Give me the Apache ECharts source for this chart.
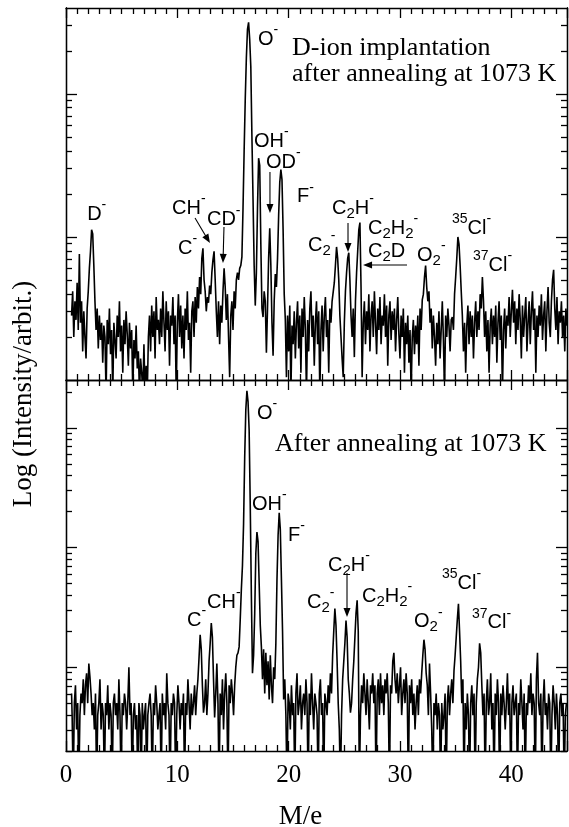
<!DOCTYPE html>
<html><head><meta charset="utf-8">
<script src="https://cdn.jsdelivr.net/npm/echarts@6/dist/echarts.min.js"></script>
<style>html,body{margin:0;padding:0;background:#fff}#c{width:569px;height:827px}</style>
</head><body><div id="c"></div>
<script>
// M/e grid of the recorded spectra
const MZ_START = 0.5, MZ_STEP = 0.1;
// Upper panel: D-ion implantation, after annealing at 1073 K  (log10 intensity, arb.)
const logI_implanted = [
 .45,.62,.30,.55,.42,.68,.35,.88,.40,.55,
 .20,.48,.30,.15,.50,.62,.78,.90,1.05,1.02,
 .80,.55,.35,.50,.22,.45,.28,.40,.12,.38,
 .30,-.1,.42,.25,.50,.18,.35,-.1,.40,.28,
 .15,.45,.30,.55,.20,.38,.05,.42,.25,.48,
 .32,.10,.40,.22,.35,-.1,.28,.15,.38,.08,
 .20,-.1,.15,.05,-.1,.25,-.1,.10,-.1,.30,
 .45,.20,.52,.30,.48,.15,.58,.35,.42,.25,
 .50,.30,.62,.40,.20,.55,.35,.48,.10,.45,
 .38,.58,.25,.45,-.1,.40,.60,.30,.52,.22,
 .45,.15,.50,.35,.62,.28,.40,.05,.48,.55,
 .30,.58,.40,.65,.50,.72,.60,.85,.92,.70,
 .62,.48,.58,.54,.66,.60,.75,.84,.90,.70,
 .48,.30,.55,.25,.52,.40,.62,.78,.65,.42,
 .60,.30,.02,.45,.55,.35,.62,.50,.70,.75,
 .70,.78,.80,.86,1.20,1.60,1.96,2.25,2.45,2.50,
 2.38,2.19,1.70,1.26,.80,.52,.75,1.20,1.55,1.50,
 .95,.50,.44,.62,.55,.19,.50,.85,1.06,.80,
 .40,.17,.55,.74,.65,.85,1.15,1.38,1.47,1.40,
 1.05,.60,.42,.02,.45,.20,.52,-.1,.38,.25,
 .48,.15,.40,.55,.22,.45,.05,.50,.30,.58,
 .35,-.1,.42,.20,.50,.62,.30,.45,.10,.40,
 .55,.25,.48,-.1,.35,.52,.20,.45,.58,.30,
 .42,.05,.50,.40,.55,.56,.68,.80,.93,.85,
 .70,.45,.30,.15,.02,.40,.62,.75,.85,.89,
 .70,.45,.30,.50,.16,.55,.75,.90,1.05,1.10,
 .65,.02,.40,.55,.25,.48,.35,.60,.20,.45,
 .55,.30,.62,.40,.18,.50,.35,.58,.25,.45,
 .38,.60,.30,.52,.10,.45,.55,.28,.48,.35,
 .50,.20,.42,.58,.32,.15,.45,.30,.50,.05,
 .40,.25,.45,.12,.35,-.1,.30,.42,.18,.38,
 .25,.45,.10,.50,.35,.56,.60,.72,.80,.65,
 .55,.62,.40,.50,.22,.45,.30,.10,.40,.25,
 .48,.15,.35,.55,.28,-.1,.45,.30,.50,.38,
 .20,.42,.44,.35,.60,.72,.85,1.00,.95,.80,
 .62,.45,.20,.40,.05,.38,.52,.25,.48,.30,
 .45,.15,.40,.55,.30,.48,.35,.60,.50,.72,
 .55,.30,.48,.20,.42,.05,.38,.50,.25,.45,
 .30,.52,.12,.40,.55,.28,.45,-.1,.35,.50,
 .22,.45,.38,.58,.30,.48,.63,.40,.55,.25,
 .50,.35,.60,.42,.15,.52,.30,.45,.58,.20,
 .40,.55,.25,.48,.62,.35,.50,.05,.45,.30,
 .52,.38,.60,.28,.45,.55,.20,.48,.65,.40,
 .30,.55,.70,.77,.50,.35,.58,.25,.48,.40,
 .55,.30,.45,.20,.50,.38
];
// Lower panel: after annealing at 1073 K  (log10 intensity, arb.)
const logI_annealed = [
 -.22,-.40,-1,-.30,-.15,-.52,-.30,-1,-.40,-.22,
 -.30,-.10,-.40,-.15,-.05,-.30,.03,-.08,-.22,-.40,
 -.30,-.52,-.22,-1,-.40,-.30,-.10,-.52,-.30,-.40,
 -1,-.30,-.40,-.15,-.52,-.30,-.40,-1,-.30,-.22,
 -.40,-.30,-.52,-.10,-.40,-1,-.30,-.40,-.22,-.30,
 -.52,-.30,0,-.40,-.30,-1,-.40,-.30,-.52,-.40,
 -1,-.30,-.40,-1,-.30,-.52,-.40,-.30,-1,-.40,
 -.30,-.22,-.40,-1,-.30,-.40,-.15,-.30,-.52,-.40,
 -.30,-1,-.22,-.40,-.30,-.52,-.05,-.30,-.40,-1,
 -.30,-.40,-.22,-.30,-1,-.40,-.15,-.30,-.52,-.30,
 -.40,-.22,-1,-.30,-.40,-.10,-.30,-.52,-.22,-.40,
 -.30,-.15,-.40,-.22,-.10,.08,.27,.15,-.15,-.38,
 -.30,-.10,-.40,-.22,.05,.20,.37,.25,-.10,-.42,
 -.22,.03,-.30,-1,-.22,-.40,-.10,-.52,-.22,-.05,
 -.30,-1,-.15,-.30,-.10,-.22,-.40,-.15,0,.10,
 .12,.17,.40,.65,.85,1.20,1.75,2.15,2.31,2.22,
 1.98,1.35,.60,-.05,.10,.45,.95,1.13,1.05,.70,
 .35,.17,-.10,.15,-.22,.12,-.15,.05,-.27,.10,
 -.15,-.30,0,-.10,.20,.73,1.10,1.29,1.15,.73,
 .30,-.27,-.10,-.40,-1,-.22,-.30,-.52,-.15,-.40,
 -.30,-1,-.22,-.05,-.40,-.30,-.15,-.52,-.30,-.22,
 -.40,-.10,-.30,-1,-.22,-.40,-.05,-.30,-.52,-.22,
 -.30,-.40,-1,-.22,-.10,-.40,-.30,-1,-.22,-.30,
 -.40,-.15,-.30,-.05,-.22,.10,.30,.49,.35,.05,
 -.30,-.52,-1,-.40,-.10,.05,.20,.39,.25,-.10,
 -.22,-.38,-.30,-.10,.05,.25,.45,.56,.30,-1,
 -.40,-.15,-.30,-.05,-.22,-.40,-.10,-.30,-.52,-.15,
 -.22,-.05,-.30,-.15,-1,-.22,-.10,-.40,-.05,-.30,
 -.15,-.40,-.10,-.22,-.05,-.30,-1,-.15,-.22,.05,
 .12,-.10,-.22,-.05,-.30,-.15,0,-.40,-.22,-.10,
 -.30,-.05,-.22,-1,-.15,-.30,-.10,-.40,-.22,-.52,
 -.30,-.15,-.40,-.10,-.22,-.05,.10,.23,.15,-.05,
 -.15,-.40,.03,-.22,-.52,-1,-.30,-.40,-.22,-.52,
 -.30,-.40,-1,-.30,-.52,-.40,-.22,-1,-.30,-.15,
 -.40,-.22,-.10,-.30,-.03,.10,.25,.40,.53,.30,
 .05,-.30,-.10,-1,-.30,-.52,-.22,-.40,-1,-.30,
 -.15,-.40,-.22,-1,-.30,-.10,0,.20,.12,-.15,
 -.40,-.22,-1,-.30,-.10,-.40,-.30,-.05,-.52,-.30,
 -1,-.22,-.40,-.10,-.30,-1,-.22,-.40,-.15,-.30,
 -.52,-.30,-.05,-.40,-.22,-1,-.30,-.15,-.40,-.30,
 -.22,-1,-.30,-.40,-.10,-.30,-.52,-.22,-1,-.30,
 -.40,-.15,-.30,-.05,-.40,-.22,-.30,-1,-.10,.12,
 -.30,-.40,-.22,-1,-.30,-.10,-.40,-.30,-.52,-.22,
 -.30,-1,-.40,-.15,-.30,-.52,-.22,-.40,-1,-.30,
 -.22,-.40,-.30,-1,-.40,-.30
];
const xRange = [0, 45];
const xTickLabels = [0, 10, 20, 30, 40];
const yRangeTop = [0, 2.6];      // log10 range, upper panel
const yRangeBottom = [-0.7, 2.4]; // log10 range, lower panel

// peak labels: [rich text, M/e, log10 I]
const labelsTop = [
 ['{b|D}{sp|-}', 1.9, 1.16],
 ['{b|CH}{sp|-}', 9.52, 1.20],
 ['{b|CD}{sp|-}', 12.66, 1.12],
 ['{b|C}{sp|-}', 10.06, 0.92],
 ['{b|O}{sp|-}', 17.25, 2.38],
 ['{b|OH}{sp|-}', 16.89, 1.67],
 ['{b|OD}{sp|-}', 17.97, 1.52],
 ['{b|F}{sp|-}', 20.75, 1.28],
 ['{b|C}{sb|2}{b|H}{sp|-}', 23.89, 1.20],
 ['{b|C}{sb|2}{sp|-}', 21.74, 0.94],
 ['{b|C}{sb|2}{b|H}{sb|2}{sp|-}', 27.12, 1.06],
 ['{b|C}{sb|2}{b|D}', 27.12, 0.90],
 ['{b|O}{sb|2}{sp|-}', 31.53, 0.87],
 ['{sp|35}{b|Cl}{sp|-}', 34.67, 1.06],
 ['{sp|37}{b|Cl}{sp|-}', 36.56, 0.80]
];
const labelsBottom = [
 ['{b|O}{sp|-}', 17.16, 2.12],
 ['{b|OH}{sp|-}', 16.71, 1.36],
 ['{b|F}{sp|-}', 19.94, 1.10],
 ['{b|C}{sp|-}', 10.87, 0.39],
 ['{b|CH}{sp|-}', 12.67, 0.54],
 ['{b|C}{sb|2}{b|H}{sp|-}', 23.53, 0.85],
 ['{b|C}{sb|2}{sp|-}', 21.65, 0.54],
 ['{b|C}{sb|2}{b|H}{sb|2}{sp|-}', 26.59, 0.59],
 ['{b|O}{sb|2}{sp|-}', 31.26, 0.38],
 ['{sp|35}{b|Cl}{sp|-}', 33.77, 0.70],
 ['{sp|37}{b|Cl}{sp|-}', 36.47, 0.37]
];
const arrowsTop = [
 [[11.59, 1.132], [12.93, 0.957]],
 [[14.19, 1.069], [14.10, 0.818]],
 [[18.32, 1.454], [18.32, 1.167]],
 [[25.33, 1.097], [25.33, 0.895]],
 [[30.63, 0.804], [26.68, 0.804]]
];
const arrowsBottom = [
 [[25.24, 0.787], [25.24, 0.419]]
];
const titleTop = ['D-ion implantation\nafter annealing at 1073 K', 20.30, 2.408];
const titleBottom = ['After annealing at 1073 K', 18.77, 1.865];
const yName = 'Log (Intensity/arbit.)';
const xName = 'M/e';

function toSeries(vals) { return vals.map((v, i) => [+(MZ_START + i * MZ_STEP).toFixed(2), v]); }
function logTicks(lo, hi) {
  const major = [], minor = [];
  for (let n = Math.floor(lo) - 1; n <= Math.ceil(hi); n++) {
    if (n >= lo - 1e-9 && n <= hi + 1e-9) major.push(n);
    for (let k = 2; k <= 9; k++) { const v = n + Math.log10(k); if (v >= lo - 1e-9 && v <= hi + 1e-9) minor.push(v); }
  }
  return { major, minor };
}

const black = '#000';
const chart = echarts.init(document.getElementById('c'), null, { renderer: 'canvas' });
const rects = [
  { left: 66, top: 8, width: 501, height: 372 },
  { left: 66, top: 380, width: 501, height: 371 }
];
const grids = [], xAxes = [], yAxes = [];
const frameSty = { color: black, width: 1.3 };
const tickSty = { color: black, width: 1.3 };
// grids 0,1: main panels (major + minor x ticks, major y ticks); grids 2,3: same rectangles carrying the minor y ticks
[0, 1, 2, 3].forEach(gi => {
  const panel = gi % 2;
  const isMain = gi < 2;
  grids.push(Object.assign({ containLabel: false, outerBoundsMode: 'none' }, rects[panel]));
  ['bottom', 'top'].forEach(pos => {
    const showLab = isMain && panel === 1 && pos === 'bottom';
    xAxes.push({
      type: 'value', gridIndex: gi, position: pos, min: xRange[0], max: xRange[1], interval: 10,
      show: isMain,
      axisLine: { show: true, onZero: false, lineStyle: frameSty },
      axisTick: { show: true, inside: true, length: 10, lineStyle: tickSty },
      minorTick: { show: true, splitNumber: 10, length: 6, lineStyle: tickSty },
      axisLabel: { show: showLab, customValues: xTickLabels, margin: 12, color: black, fontFamily: 'Liberation Serif', fontSize: 25 },
      splitLine: { show: false }, minorSplitLine: { show: false },
      name: showLab ? xName : '', nameLocation: 'middle', nameGap: 52,
      nameTextStyle: { color: black, fontFamily: 'Liberation Serif', fontSize: 27, padding: [0, 32, 0, 0] }
    });
  });
  const rng = panel === 0 ? yRangeTop : yRangeBottom;
  const t = logTicks(rng[0], rng[1]);
  ['left', 'right'].forEach(pos => {
    yAxes.push({
      type: 'value', gridIndex: gi, position: pos, min: rng[0], max: rng[1],
      axisLine: { show: true, onZero: false, lineStyle: frameSty },
      axisTick: { show: true, inside: true, length: isMain ? 11 : 6, customValues: isMain ? t.major : t.minor, lineStyle: tickSty },
      axisLabel: { show: false }, splitLine: { show: false }
    });
  });
});
// axis indices: grid gi -> x axes 2gi, 2gi+1 ; y axes 2gi, 2gi+1

chart.setOption({
  animation: false,
  backgroundColor: '#fff',
  grid: grids,
  xAxis: xAxes,
  yAxis: yAxes,
  series: [
    { type: 'line', xAxisIndex: 0, yAxisIndex: 0, data: toSeries(logI_implanted), symbol: 'none', clip: true,
      lineStyle: { color: black, width: 1.6 } },
    { type: 'line', xAxisIndex: 2, yAxisIndex: 2, data: toSeries(logI_annealed), symbol: 'none', clip: true, step: 'middle',
      lineStyle: { color: black, width: 1.6 } }
  ]
});

const finders = [{ xAxisIndex: 0, yAxisIndex: 0 }, { xAxisIndex: 2, yAxisIndex: 2 }];
const px = (gi, p) => chart.convertToPixel(finders[gi], p);
const rich = {
  b: { fontFamily: 'Liberation Sans', fontSize: 20, lineHeight: 24, fill: black },
  sp: { fontFamily: 'Liberation Sans', fontSize: 14, height: 6, lineHeight: 6, verticalAlign: 'top', fill: black },
  sb: { fontFamily: 'Liberation Sans', fontSize: 15, height: 13, lineHeight: 13, verticalAlign: 'bottom', fill: black }
};
const g = [];
function addLabels(gi, list) {
  list.forEach(([txt, mz, L]) => {
    const p = px(gi, [mz, L]);
    g.push({ type: 'text', x: p[0], y: p[1], silent: true,
      style: { text: txt, rich: rich, align: 'left', verticalAlign: 'middle', fill: black } });
  });
}
function addArrows(gi, list) {
  list.forEach(([a, b]) => {
    const p1 = px(gi, a), p2 = px(gi, b);
    const dx = p2[0] - p1[0], dy = p2[1] - p1[1], d = Math.hypot(dx, dy);
    const ux = dx / d, uy = dy / d, hl = 9, hw = 3.5;
    g.push({ type: 'line', silent: true, shape: { x1: p1[0], y1: p1[1], x2: p2[0] - ux * (hl - 1), y2: p2[1] - uy * (hl - 1) },
      style: { stroke: black, lineWidth: 1.1 } });
    g.push({ type: 'polygon', silent: true, shape: { points: [
      [p2[0], p2[1]],
      [p2[0] - ux * hl - uy * hw, p2[1] - uy * hl + ux * hw],
      [p2[0] - ux * hl + uy * hw, p2[1] - uy * hl - ux * hw]] }, style: { fill: black } });
  });
}
addLabels(0, labelsTop); addLabels(1, labelsBottom);
addArrows(0, arrowsTop); addArrows(1, arrowsBottom);
{
  const p = px(0, [titleTop[1], titleTop[2]]);
  g.push({ type: 'text', x: p[0], y: p[1], silent: true, style: { text: titleTop[0], fontFamily: 'Liberation Serif', fontSize: 26, lineHeight: 26, align: 'left', verticalAlign: 'top', fill: black } });
  const q = px(1, [titleBottom[1], titleBottom[2]]);
  g.push({ type: 'text', x: q[0], y: q[1], silent: true, style: { text: titleBottom[0], fontFamily: 'Liberation Serif', fontSize: 26, align: 'left', verticalAlign: 'middle', fill: black } });
  g.push({ type: 'text', x: 24, y: 394, rotation: Math.PI / 2, silent: true, style: { text: yName, fontFamily: 'Liberation Serif', fontSize: 27, align: 'center', verticalAlign: 'middle', fill: black } });
}
chart.setOption({ graphic: g });
</script>
</body></html>
